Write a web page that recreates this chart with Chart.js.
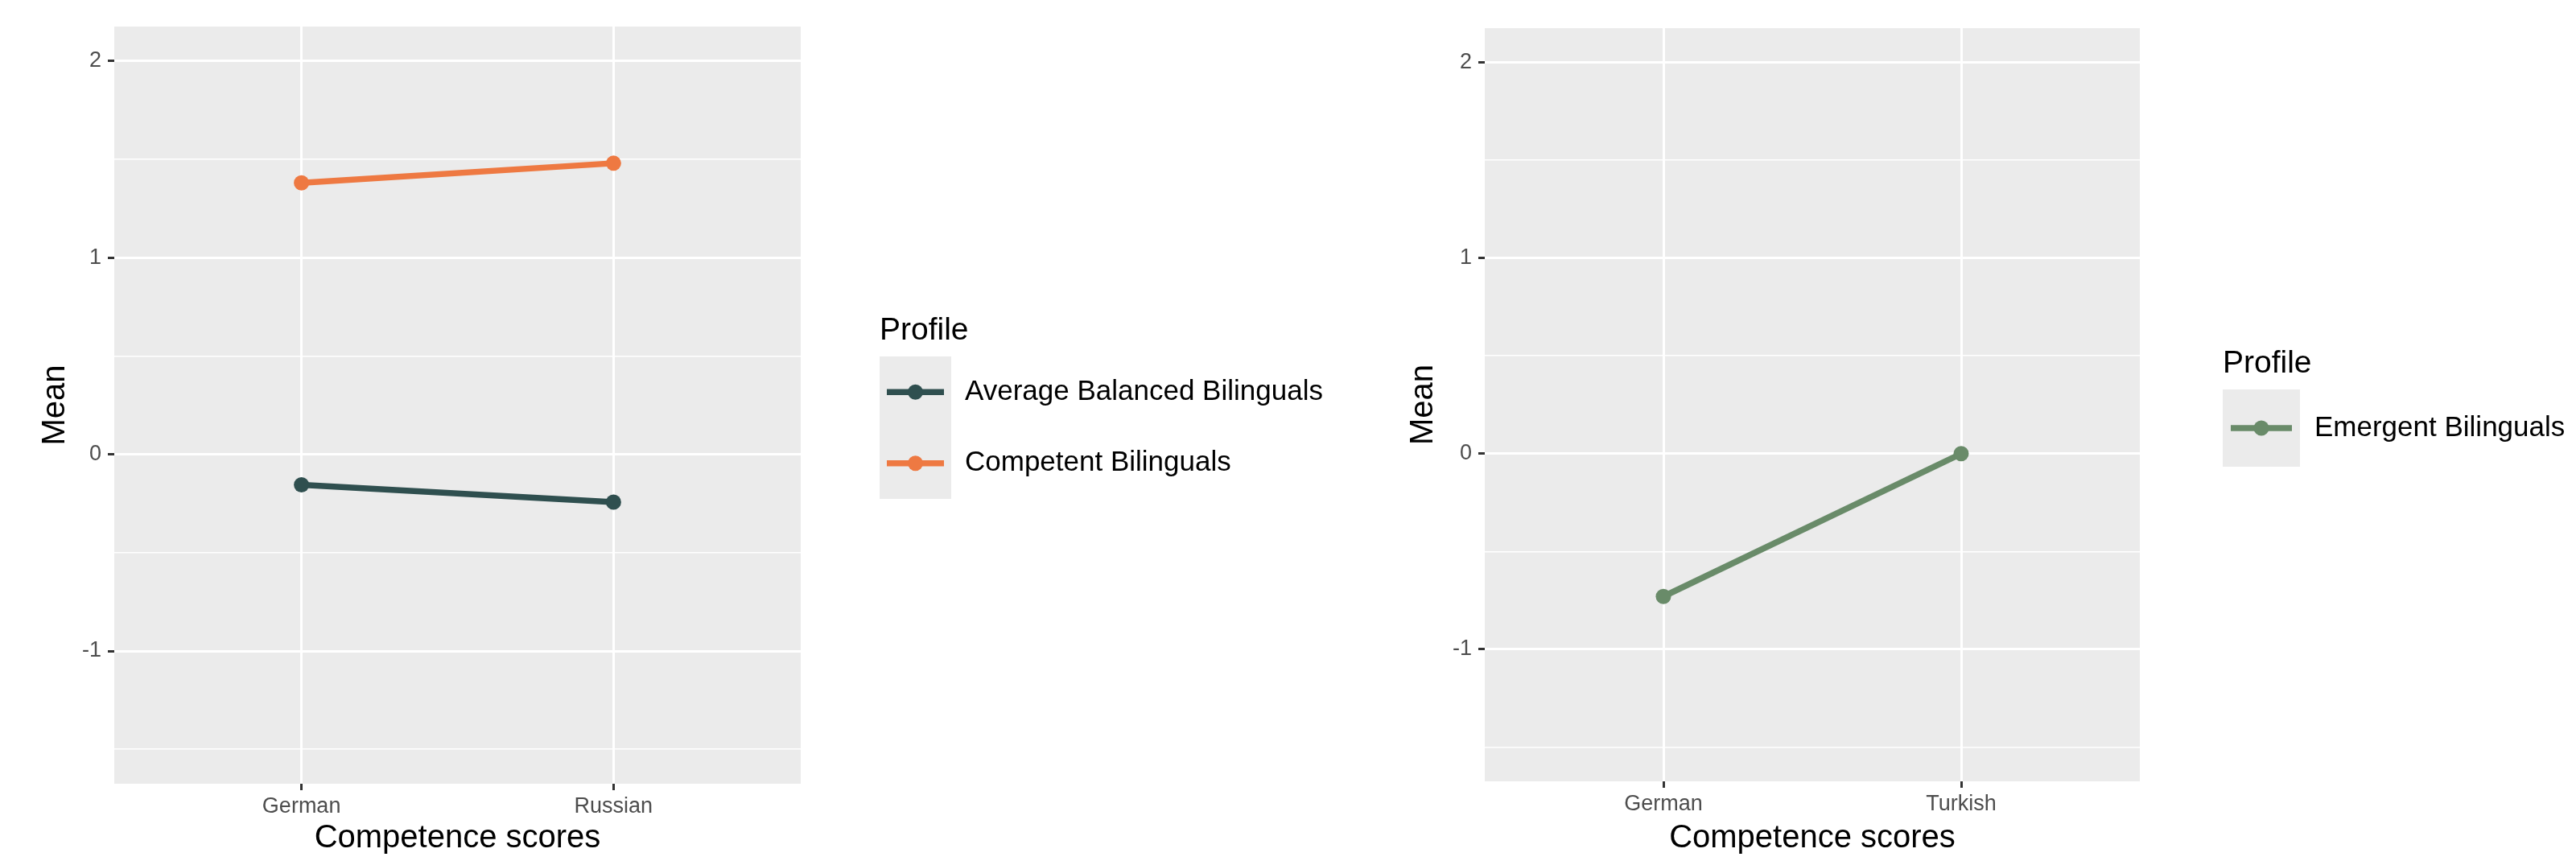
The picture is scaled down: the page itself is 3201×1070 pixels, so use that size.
<!DOCTYPE html>
<html>
<head>
<meta charset="utf-8">
<script src="https://cdn.jsdelivr.net/npm/chart.js@4.4.1/dist/chart.umd.min.js"></script>
<style>
  html, body { margin: 0; padding: 0; background: #ffffff; }
  #wrap { position: relative; width: 3201px; height: 1070px; overflow: hidden; }
  canvas { position: absolute; top: 0; }
  #c1 { left: 0; }
  #c2 { left: 1600px; }
</style>
</head>
<body>
<div id="wrap">
  <canvas id="c1" width="1700" height="1070"></canvas>
  <canvas id="c2" width="1601" height="1070"></canvas>
</div>
<script>
// ---------- data ----------
const categoriesLeft = ['German', 'Russian'];
const averageBalancedBilinguals = [-0.155, -0.243];
const competentBilinguals = [1.38, 1.48];

const categoriesRight = ['German', 'Turkish'];
const emergentBilinguals = [-0.73, 0.0];

const yTickValues = [-1.5, -1, -0.5, 0, 0.5, 1, 1.5, 2];
const yMin = -1.675;
const yMax = 2.175;

const seriesLabels = ['Average Balanced Bilinguals', 'Competent Bilinguals', 'Emergent Bilinguals'];
const legendTitle = 'Profile';
const xTitle = 'Competence scores';
const yTitle = 'Mean';

// ---------- style ----------
const FONT = '"Liberation Sans", Arial, Helvetica, sans-serif';
const COLORS = { avg: '#2F4F4F', comp: '#EE7942', emer: '#698B69' };
const PANEL = '#EBEBEB';

const panelBg = {
  id: 'panelBg',
  beforeDraw(chart, args, o) {
    const { ctx, chartArea: a } = chart;
    ctx.save();
    ctx.fillStyle = o.color;
    ctx.fillRect(a.left, a.top, a.right - a.left, a.bottom - a.top);
    ctx.restore();
  }
};

const ggLegend = {
  id: 'ggLegend',
  afterDraw(chart, args, o) {
    const ctx = chart.ctx;
    const ds = chart.data.datasets;
    ctx.save();
    ctx.fillStyle = '#000000';
    ctx.textAlign = 'left';
    ctx.textBaseline = 'alphabetic';
    ctx.font = o.titleSize + 'px ' + FONT;
    ctx.fillText(o.title, o.x, o.titleBaseline);
    ctx.fillStyle = o.keyFill;
    ctx.fillRect(o.x, o.keyTop, o.keyW, o.keyH * ds.length);
    ds.forEach((d, i) => {
      const cy = o.keyTop + o.keyH * (i + 0.5);
      ctx.strokeStyle = d.borderColor;
      ctx.lineWidth = d.borderWidth;
      ctx.lineCap = 'butt';
      ctx.beginPath();
      ctx.moveTo(o.x + o.inset, cy);
      ctx.lineTo(o.x + o.keyW - o.inset, cy);
      ctx.stroke();
      ctx.fillStyle = d.pointBackgroundColor;
      ctx.beginPath();
      ctx.arc(o.x + o.keyW / 2, cy, d.pointRadius, 0, Math.PI * 2);
      ctx.fill();
      ctx.fillStyle = '#000000';
      ctx.textBaseline = 'middle';
      ctx.font = o.labelSize + 'px ' + FONT;
      ctx.fillText(d.label, o.x + o.keyW + o.gap, cy);
    });
    ctx.restore();
  }
};

function makeDataset(label, cats, vals, color) {
  return {
    label: label,
    data: vals.map((v, i) => ({ x: i, y: v })),
    borderColor: color,
    backgroundColor: color,
    pointBackgroundColor: color,
    pointBorderWidth: 0,
    pointRadius: 9.5,
    borderWidth: 7.5,
    tension: 0,
    fill: false
  };
}

function makeOptions(cats, geo, legendGeo) {
  return {
    responsive: false,
    animation: false,
    devicePixelRatio: 1,
    layout: { padding: { left: 0, right: geo.padRight, top: geo.padTop, bottom: 0 } },
    plugins: {
      legend: { display: false },
      tooltip: { enabled: false },
      panelBg: { color: PANEL },
      ggLegend: legendGeo
    },
    scales: {
      x: {
        type: 'linear',
        min: -0.6,
        max: cats.length - 1 + 0.6,
        afterBuildTicks: (s) => { s.ticks = cats.map((c, i) => ({ value: i })); },
        afterFit: (s) => { s.height = geo.xAxisH; },
        ticks: {
          autoSkip: false, maxRotation: 0, padding: 4,
          color: '#4D4D4D',
          font: { family: FONT, size: 27 },
          callback: (v) => cats[v]
        },
        grid: {
          color: '#FFFFFF', lineWidth: 3,
          tickColor: '#333333', tickLength: 8, tickWidth: 3
        },
        border: { display: false },
        title: {
          display: true, text: xTitle, color: '#000000',
          font: { family: FONT, size: 40 },
          padding: { top: 0, bottom: 4 }
        }
      },
      y: {
        type: 'linear',
        min: yMin,
        max: yMax,
        afterBuildTicks: (s) => { s.ticks = yTickValues.map(v => ({ value: v })); },
        afterFit: (s) => { s.width = geo.yAxisW; },
        ticks: {
          autoSkip: false, padding: 8,
          color: '#4D4D4D',
          font: { family: FONT, size: 27 },
          callback: (v) => Number.isInteger(v) ? String(v) : ''
        },
        grid: {
          color: '#FFFFFF',
          lineWidth: (c) => (c.tick && Number.isInteger(c.tick.value)) ? 3 : 1.5,
          tickColor: (c) => (c.tick && Number.isInteger(c.tick.value)) ? '#333333' : 'rgba(0,0,0,0)',
          tickLength: 8, tickWidth: 3
        },
        border: { display: false },
        title: {
          display: true, text: yTitle, color: '#000000',
          font: { family: FONT, size: 40 },
          padding: { top: geo.yTitlePad, bottom: 0 }
        }
      }
    }
  };
}

new Chart(document.getElementById('c1'), {
  type: 'line',
  data: {
    datasets: [
      makeDataset(seriesLabels[0], categoriesLeft, averageBalancedBilinguals, COLORS.avg),
      makeDataset(seriesLabels[1], categoriesLeft, competentBilinguals, COLORS.comp)
    ]
  },
  options: makeOptions(categoriesLeft,
    { padRight: 705, padTop: 33, xAxisH: 96, yAxisW: 142, yTitlePad: 45 },
    { title: legendTitle, titleSize: 39, labelSize: 35, x: 1093, titleBaseline: 422,
      keyTop: 443, keyW: 89, keyH: 88.5, inset: 9, gap: 17, keyFill: PANEL }),
  plugins: [panelBg, ggLegend]
});

new Chart(document.getElementById('c2'), {
  type: 'line',
  data: {
    datasets: [
      makeDataset(seriesLabels[2], categoriesRight, emergentBilinguals, COLORS.emer)
    ]
  },
  options: makeOptions(categoriesRight,
    { padRight: 542, padTop: 35, xAxisH: 99, yAxisW: 245, yTitlePad: 145 },
    { title: legendTitle, titleSize: 39, labelSize: 35, x: 1162, titleBaseline: 463,
      keyTop: 484, keyW: 96, keyH: 96, inset: 10, gap: 18, keyFill: PANEL }),
  plugins: [panelBg, ggLegend]
});
</script>
</body>
</html>
